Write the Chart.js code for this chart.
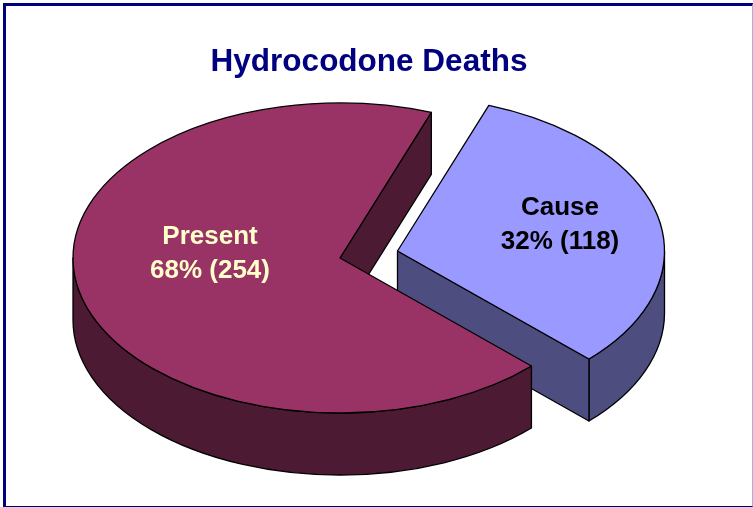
<!DOCTYPE html>
<html>
<head>
<meta charset="utf-8">
<title>Hydrocodone Deaths</title>
<script src="https://cdn.jsdelivr.net/npm/chart.js@4"></script>
<style>
html,body{margin:0;padding:0;background:#fff;overflow:hidden}
#frame{position:absolute;left:3px;top:3px;box-sizing:content-box;
border-left:3px solid #000080;border-top:3px solid #000080;border-right:1px solid #b4aad8;border-bottom:1px solid #000080;
width:746px;height:500px}
#chart{position:absolute;left:0;top:0}
</style>
</head>
<body>
<div id="frame"></div>
<canvas id="chart" width="753" height="507"></canvas>
<script>

const categories = ["Cause","Present"]
const deaths = [118,254]
const topColors = ["#9999ff","#993366"]
const wallColors = ["#4d4d80","#4d1a33"]
const labelColors = ["#000000","#ffffcc"]

// where the pie sits on the page and how it is tilted
const pieX = 340
const pieY = 258
const tilt = 155/267
const depth = 62
const explode = [[57.5,-7],[0,0]]
const labelPos = [[560,208],[210,237]]

const total = deaths.reduce((a,b)=>a+b,0)

/* 3D look: Chart.js only has a flat pie, so squash it and add walls */

function arcInfo(arc,i){

const p = arc.getProps(["startAngle","endAngle","outerRadius"],true)

return {
start:p.startAngle,
end:p.endAngle,
r:p.outerRadius,
x:pieX+explode[i][0],
y:pieY+explode[i][1]
}

}

function wallOuter(ctx,a,from,to,color){

ctx.beginPath()
ctx.ellipse(a.x,a.y,a.r,a.r*tilt,0,from,to)
ctx.lineTo(a.x+a.r*Math.cos(to),a.y+a.r*tilt*Math.sin(to)+depth)
ctx.ellipse(a.x,a.y+depth,a.r,a.r*tilt,0,to,from,true)
ctx.closePath()
ctx.fillStyle=color
ctx.fill()
ctx.stroke()

}

function wallCut(ctx,a,angle,color){

const ex = a.x+a.r*Math.cos(angle)
const ey = a.y+a.r*tilt*Math.sin(angle)

ctx.beginPath()
ctx.moveTo(a.x,a.y)
ctx.lineTo(ex,ey)
ctx.lineTo(ex,ey+depth)
ctx.lineTo(a.x,a.y+depth)
ctx.closePath()
ctx.fillStyle=color
ctx.fill()
ctx.stroke()

}

function drawTop(ctx,arc,a){

// the slice itself is still the library's arc, just moved and squashed
ctx.save()
ctx.translate(a.x,a.y)
ctx.scale(1,tilt)
ctx.translate(-arc.x,-arc.y)
arc.draw(ctx)
ctx.restore()

ctx.beginPath()
ctx.moveTo(a.x,a.y)
ctx.ellipse(a.x,a.y,a.r,a.r*tilt,0,a.start,a.end)
ctx.closePath()
ctx.stroke()

}

const pie3d = {

id:"pie3d",

beforeDatasetDraw(chart,args){

const ctx = chart.ctx
const arcs = args.meta.data
const cause = arcInfo(arcs[0],0)
const present = arcInfo(arcs[1],1)

ctx.save()
ctx.strokeStyle="#000"
ctx.lineWidth=1.3
ctx.lineJoin="round"

// back to front
wallCut(ctx,present,present.end,wallColors[1])
wallOuter(ctx,cause,0,cause.end,wallColors[0])
wallCut(ctx,cause,cause.end,wallColors[0])
wallOuter(ctx,present,present.start,Math.PI,wallColors[1])
drawTop(ctx,arcs[1],present)
drawTop(ctx,arcs[0],cause)

ctx.font="bold 26px 'Liberation Sans', Arial, sans-serif"
ctx.textAlign="center"
ctx.textBaseline="middle"

categories.forEach((name,i)=>{
const pct = Math.round(deaths[i]/total*100)
ctx.fillStyle=labelColors[i]
ctx.fillText(name,labelPos[i][0],labelPos[i][1])
ctx.fillText(pct+"% ("+deaths[i]+")",labelPos[i][0],labelPos[i][1]+34)
})

ctx.restore()

return false

}

}

new Chart(document.getElementById("chart"),{

type:"pie",

data:{
labels:categories,
datasets:[{
data:deaths,
backgroundColor:topColors,
borderWidth:0
}]
},

options:{
responsive:false,
animation:false,
rotation:20,
radius:267,
layout:{padding:{right:15}},
plugins:{
legend:{display:false},
tooltip:{enabled:false},
title:{
display:true,
text:"Hydrocodone Deaths",
color:"#000080",
font:{family:"'Liberation Sans', Arial, sans-serif",size:31.5,weight:"bold"},
padding:{top:43,bottom:10}
}
}
},

plugins:[pie3d]

})

</script>
</body>
</html>
